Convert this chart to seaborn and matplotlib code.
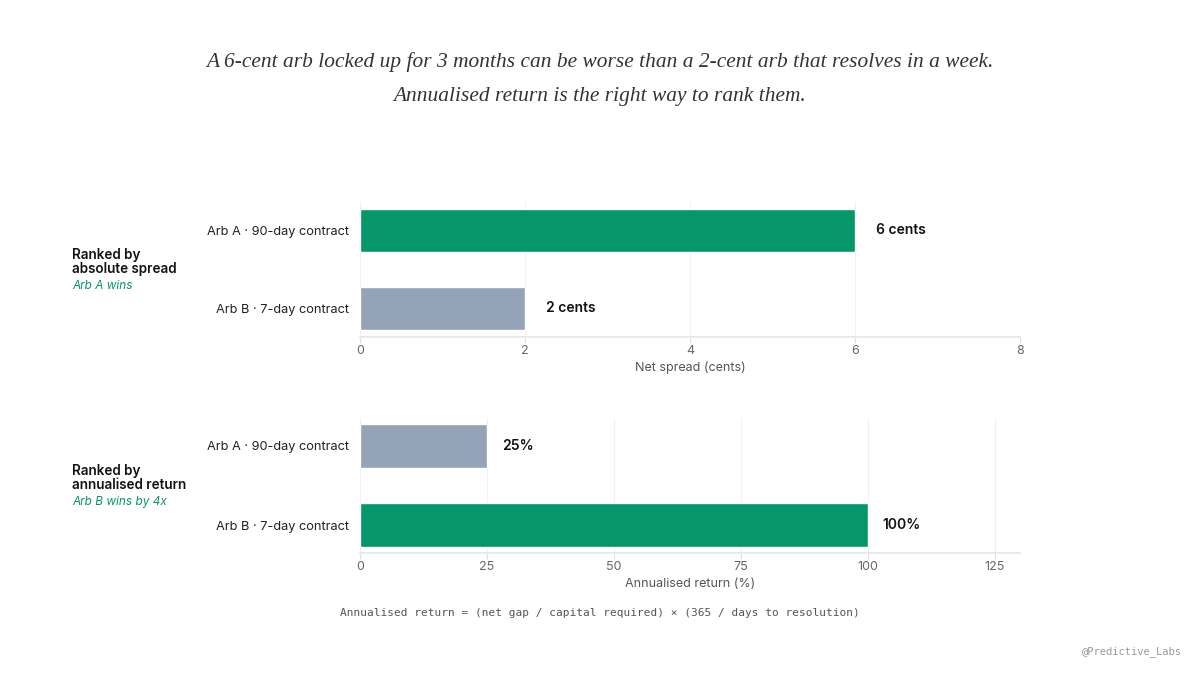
import matplotlib
matplotlib.use("Agg")
import matplotlib.pyplot as plt
import seaborn as sns
import pandas as pd

# data
arbs = ["Arb A · 90-day contract", "Arb B · 7-day contract"]
net_spread = [6, 2]
annual_return = [25, 100]
spread_labels = ["6 cents", "2 cents"]
return_labels = ["25%", "100%"]

GREEN = "#059669"
GREY = "#94a3b8"

sns.set_theme(style="white")
plt.rcParams["font.family"] = ["Inter", "DejaVu Sans"]

fig = plt.figure(figsize=(12, 6.75), dpi=100)
fig.patch.set_facecolor("white")

ax1 = fig.add_axes([0.30, 0.5007, 0.55, 0.20])
ax2 = fig.add_axes([0.30, 0.1807, 0.55, 0.20])


def draw_panel(ax, values, texts, colors, xmax, ticks, xlabel, ylim, offset_px):
    df = pd.DataFrame({"arb": arbs, "value": values})
    sns.barplot(data=df, y="arb", x="value", hue="arb", palette=colors,
                orient="h", width=0.55, legend=False, ax=ax, saturation=1)
    ax.set_xlim(0, xmax)
    ax.set_ylim(*ylim)
    ax.set_xticks(ticks)
    ax.set_xlabel(xlabel, fontsize=9, color="#555555", labelpad=3)
    ax.set_ylabel("")
    ax.grid(axis="x", color="#f1f1f1", linewidth=0.8)
    ax.set_axisbelow(True)
    for s in ["top", "right", "left"]:
        ax.spines[s].set_visible(False)
    ax.spines["bottom"].set_color("#e5e7eb")
    ax.tick_params(axis="x", colors="#e0e0e0", labelcolor="#666666",
                   labelsize=9, length=4, width=0.8, bottom=True, pad=2)
    ax.tick_params(axis="y", length=0, labelsize=9.2, labelcolor="#222222", pad=8)
    for i, (v, t) in enumerate(zip(values, texts)):
        ax.annotate(t, xy=(v, i), xytext=(offset_px * 0.72, 0),
                    textcoords="offset points", va="center", ha="left",
                    fontsize=10, fontweight="semibold", color="#111111")


draw_panel(ax1, net_spread, spread_labels, [GREEN, GREY], 8, [0, 2, 4, 6, 8],
           "Net spread (cents)", (1.37, -0.36), 21)
draw_panel(ax2, annual_return, return_labels, [GREY, GREEN], 130,
           [0, 25, 50, 75, 100, 125], "Annualised return (%)", (1.35, -0.35), 15)

# left side panel labels
fig.text(0.06, 1 - 255 / 675, "Ranked by", fontsize=9.7, fontweight="semibold",
         color="#111111", va="center")
fig.text(0.06, 1 - 269 / 675, "absolute spread", fontsize=9.7, fontweight="semibold",
         color="#111111", va="center")
fig.text(0.06, 1 - 286 / 675, "Arb A wins", fontsize=8.5, style="italic",
         color=GREEN, va="center")
fig.text(0.06, 1 - 471 / 675, "Ranked by", fontsize=9.7, fontweight="semibold",
         color="#111111", va="center")
fig.text(0.06, 1 - 485 / 675, "annualised return", fontsize=9.7, fontweight="semibold",
         color="#111111", va="center")
fig.text(0.06, 1 - 502 / 675, "Arb B wins by 4x", fontsize=8.5, style="italic",
         color=GREEN, va="center")

# title
fig.text(0.5, 1 - 62 / 675,
         "A 6-cent arb locked up for 3 months can be worse than a 2-cent arb that resolves in a week.",
         ha="center", va="center", fontsize=15.4, style="italic", color="#333333",
         family=["Liberation Serif", "DejaVu Serif"])
fig.text(0.5, 1 - 96 / 675, "Annualised return is the right way to rank them.",
         ha="center", va="center", fontsize=15.4, style="italic", color="#333333",
         family=["Liberation Serif", "DejaVu Serif"])

# footer
fig.text(0.5, 1 - 613 / 675,
         "Annualised return = (net gap / capital required) × (365 / days to resolution)",
         ha="center", va="center", fontsize=8, color="#555555",
         family=["DejaVu Sans Mono"])
fig.text(1182 / 1200, 1 - 652 / 675, "@Predictive_Labs", ha="right", va="center",
         fontsize=7.5, color="#999999", family=["DejaVu Sans Mono"])

fig.savefig("out.png", dpi=100, facecolor="white")
